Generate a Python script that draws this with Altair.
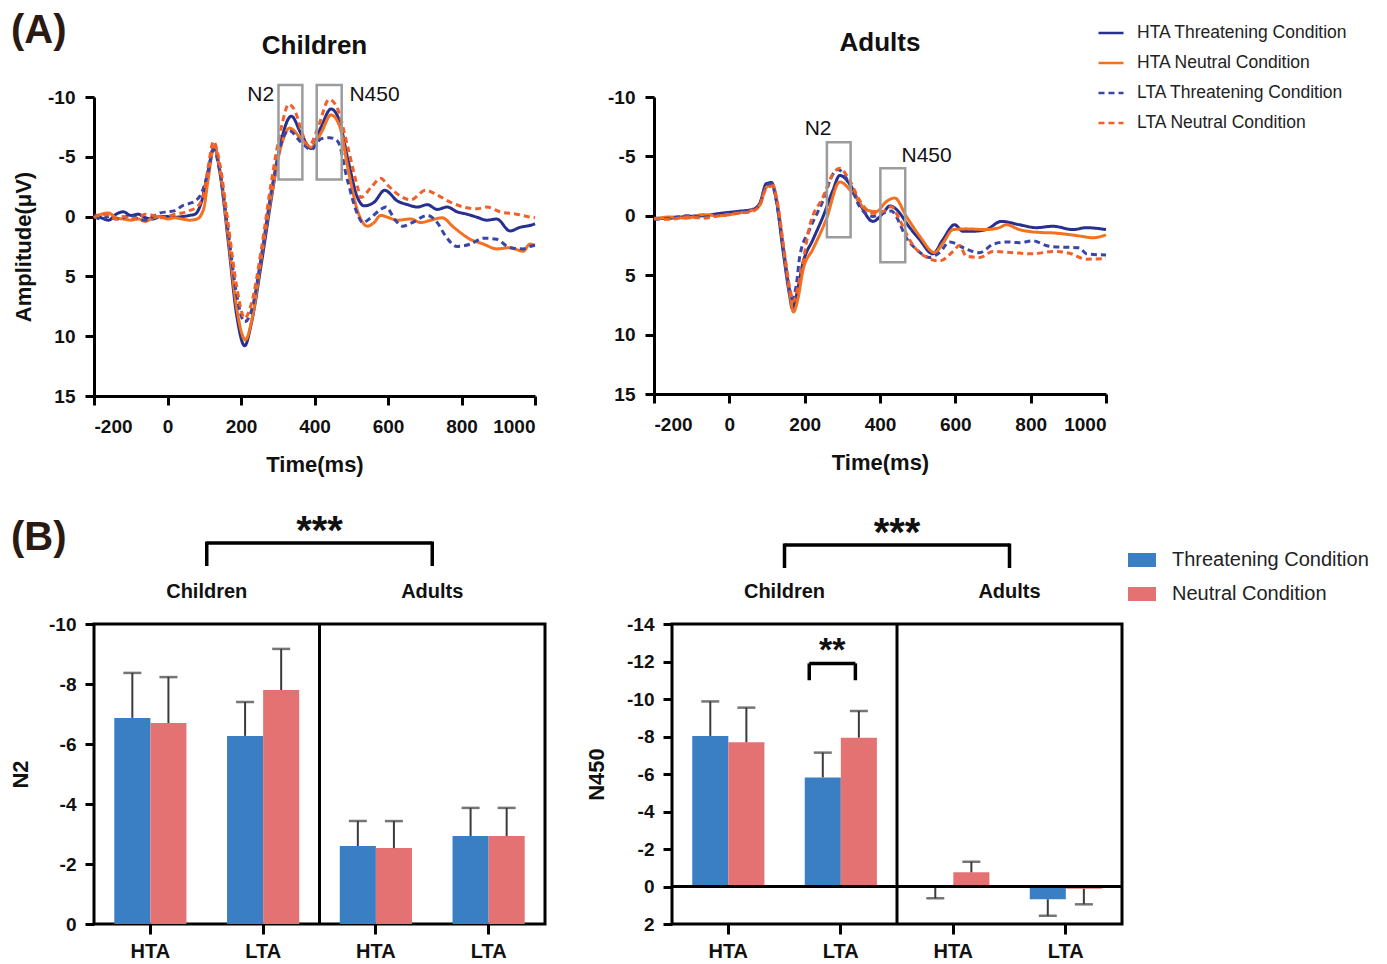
import altair as alt
import pandas as pd

# ---------------- ERP waveforms ----------------
SERIES = ["HTA Threatening Condition", "HTA Neutral Condition",
          "LTA Threatening Condition", "LTA Neutral Condition"]
SERIES_COLORS = ["#27308f", "#f4711f", "#3a45a6", "#f2602a"]
SERIES_DASH = [[1, 0], [1, 0], [6, 4], [6, 4]]

# Children
CH_HTA_THR_T = [-200, -180, -160, -140, -120, -100, -80, -60, -40, -20, 0, 20, 40, 60, 75, 93, 111, 127, 143, 165,
                188, 210, 229, 256, 283, 310, 337, 364, 391, 418, 445, 468, 490, 517, 535, 562, 591, 626, 653, 680,
                707, 734, 761, 788, 815, 842, 869, 896, 932, 959, 991, 1000]
CH_HTA_THR_V = [-0.2, 0.1, 0.3, -0.2, -0.4, -0.1, -0.2, 0.1, 0.2, 0.0, 0.0, 0.05, 0.0, -0.1, -0.2, -1.3, -3.9, -5.9, -3.6, 2.0,
                8.2, 10.8, 8.8, 3.8, -1.6, -6.4, -8.4, -6.9, -5.7, -7.5, -9.0, -8.0, -4.9, -1.6, -0.9, -1.2, -2.2, -1.3, -1.0, -0.8,
                -1.0, -0.6, -0.8, -0.4, -0.2, 0.05, 0.3, 0.2, 1.2, 0.9, 0.7, 0.6]
CH_HTA_NEU_T = [-200, -180, -160, -140, -120, -100, -80, -60, -40, -20, 0, 20, 40, 60, 80, 98, 111, 127, 143, 165,
                188, 212, 231, 256, 283, 310, 332, 364, 391, 418, 445, 468, 490, 517, 544, 562, 580, 603, 625, 662,
                689, 716, 747, 779, 824, 860, 896, 932, 968, 986, 1000]
CH_HTA_NEU_V = [0.1, -0.2, -0.3, 0.1, 0.2, 0.3, 0.2, 0.4, 0.1, 0.0, 0.2, 0.1, 0.2, 0.3, 0.2, -0.6, -3.2, -5.9, -3.8, 1.6,
                7.6, 10.3, 8.4, 3.3, -1.8, -6.0, -7.4, -6.5, -5.8, -7.0, -8.5, -7.6, -4.2, -0.5, 0.8, 0.5, -0.1, 0.1, 0.3, 0.2,
                0.5, 0.3, 0.1, 0.9, 1.9, 2.3, 2.7, 2.6, 2.9, 2.3, 2.4]
CH_LTA_THR_T = [-200, -180, -160, -140, -120, -100, -80, -60, -40, -20, 0, 20, 40, 60, 75, 93, 111, 125, 143, 165,
                188, 210, 229, 256, 283, 310, 330, 364, 391, 418, 441, 463, 490, 517, 531, 553, 580, 594, 620, 639,
                666, 707, 734, 756, 788, 824, 860, 896, 932, 968, 986, 1000]
CH_LTA_THR_V = [0.0, 0.2, 0.0, 0.2, 0.1, -0.1, 0.2, 0.3, 0.0, -0.3, -0.4, -0.5, -0.9, -1.1, -1.3, -2.0, -3.8, -5.6, -3.7, 1.2,
                6.5, 8.8, 7.8, 3.2, -2.2, -6.2, -7.2, -6.2, -5.6, -6.5, -6.6, -6.3, -3.0, -0.2, 0.5, 0.1, -0.6, -0.8, 0.3, 0.8,
                0.5, -0.1, 0.5, 1.6, 2.5, 2.3, 1.8, 1.9, 2.6, 2.7, 2.5, 2.4]
CH_LTA_NEU_T = [-200, -180, -160, -140, -120, -100, -80, -60, -40, -20, 0, 20, 40, 60, 80, 98, 111, 125, 143, 165,
                188, 210, 229, 256, 283, 310, 330, 350, 364, 385, 410, 440, 463, 490, 517, 526, 553, 580, 600, 625,
                662, 702, 734, 770, 806, 842, 869, 905, 950, 991, 1000]
CH_LTA_NEU_V = [0.1, -0.2, -0.1, 0.2, 0.0, 0.2, 0.1, -0.2, -0.1, 0.1, 0.0, -0.2, -0.3, -0.5, -0.8, -1.8, -4.2, -6.3, -4.3, 0.6,
                5.8, 8.5, 7.2, 2.6, -3.0, -7.5, -9.4, -8.6, -7.2, -5.9, -7.5, -9.8, -9.0, -5.9, -2.5, -1.6, -2.4, -3.2, -2.6, -1.9,
                -1.4, -2.2, -1.8, -1.2, -0.8, -0.65, -0.8, -0.4, -0.2, 0.06, 0.1]

# Adults
AD_HTA_THR_T = [-200, -158, -114, -70, -26, 19, 63, 81, 98, 112, 125, 142, 160, 167, 178, 196, 222, 249, 275, 293,
                319, 346, 381, 408, 426, 456, 470, 505, 540, 567, 598, 620, 647, 682, 722, 770, 815, 859, 912, 948, 1000]
AD_HTA_THR_V = [0.2, 0.2, 0.05, 0.0, -0.2, -0.36, -0.55, -1.05, -2.7, -2.8, -1.3, 2.8, 6.7, 7.8, 6.7, 3.9, 2.0, 0.05, -2.15, -3.4,
                -2.7, -1.05, 0.47, -0.22, -0.83, -0.08, 0.6, 2.0, 3.2, 2.0, 0.75, 1.3, 1.3, 1.16, 0.47, 0.75, 1.0, 0.88, 1.16, 1.0, 1.16]
AD_HTA_NEU_T = [-200, -158, -114, -70, -26, 19, 63, 81, 98, 115, 128, 145, 162, 170, 182, 196, 222, 257, 293, 328,
                364, 390, 417, 439, 470, 505, 545, 567, 594, 629, 682, 717, 735, 770, 824, 859, 930, 965, 1000]
AD_HTA_NEU_V = [0.3, 0.1, 0.2, -0.1, 0.0, -0.2, -0.5, -0.9, -2.4, -2.6, -1.0, 3.0, 6.8, 8.1, 7.0, 4.5, 2.8, 0.33, -2.85, -1.9,
                -0.5, -0.36, -1.2, -1.5, 0.05, 1.7, 3.1, 2.3, 1.16, 1.1, 1.16, 1.0, 0.75, 1.16, 1.4, 1.44, 1.7, 1.85, 1.6]
AD_LTA_THR_T = [-200, -158, -114, -70, -26, 19, 63, 81, 98, 112, 125, 142, 160, 167, 178, 187, 213, 249, 275, 288,
                319, 346, 381, 408, 430, 452, 465, 496, 532, 558, 585, 629, 664, 700, 735, 771, 806, 841, 859, 930, 948, 1000]
AD_LTA_THR_V = [0.3, 0.2, 0.0, 0.1, -0.1, -0.3, -0.5, -1.0, -2.6, -2.7, -1.2, 2.5, 6.2, 7.0, 5.8, 3.4, 1.16, -1.3, -3.5, -3.9,
                -2.7, -0.77, 0.05, -0.22, -0.4, 0.6, 1.57, 2.8, 3.5, 3.1, 2.2, 2.8, 3.1, 2.4, 2.2, 2.26, 2.1, 2.5, 2.6, 2.7, 3.2, 3.3]
AD_LTA_NEU_T = [-200, -158, -114, -70, -26, 19, 63, 81, 98, 115, 128, 145, 162, 170, 182, 192, 213, 249, 275, 293,
                319, 346, 381, 408, 430, 452, 478, 505, 558, 594, 611, 629, 664, 700, 753, 806, 859, 903, 948, 1000]
AD_LTA_NEU_V = [0.2, 0.3, 0.1, 0.2, 0.0, -0.2, -0.4, -0.9, -2.3, -2.5, -1.0, 2.8, 6.3, 7.2, 6.0, 4.5, 0.9, -1.6, -3.5, -4.0,
                -3.0, -1.3, -0.22, -0.36, -0.77, 0.33, 2.0, 3.1, 3.8, 3.0, 2.5, 3.4, 3.5, 3.0, 3.1, 3.2, 3.0, 3.15, 3.65, 3.6]

# ERP component windows (ms) and amplitude extents (uV) of the grey boxes
BOX_NAME = ["N2", "N450"]
CH_BOX_T0 = [302, 406]
CH_BOX_T1 = [367, 474]
CH_BOX_V0 = [-11.0, -11.0]
CH_BOX_V1 = [-3.1, -3.1]
CH_LABEL_T = [290, 495]
CH_LABEL_V = [-10.2, -10.2]
CH_LABEL_ALIGN = ["right", "left"]

AD_BOX_T0 = [259, 401]
AD_BOX_T1 = [322, 467]
AD_BOX_V0 = [-6.2, -4.0]
AD_BOX_V1 = [1.8, 3.9]
AD_LABEL_T = [200, 457]
AD_LABEL_V = [-7.3, -5.0]
AD_LABEL_ALIGN = ["left", "left"]

# ---------------- Bar data ----------------
GROUPS = ["Children HTA", "Children LTA", "Adults HTA", "Adults LTA"]
CONDS = ["Threatening Condition", "Neutral Condition"]
BAR_COLORS = ["#3a7fc4", "#e47272"]

N2_THR = [-6.87, -6.27, -2.6, -2.93]
N2_NEU = [-6.7, -7.8, -2.53, -2.93]
N2_THR_ERR = [-8.37, -7.4, -3.43, -3.87]
N2_NEU_ERR = [-8.23, -9.17, -3.43, -3.87]

N450_THR = [-8.03, -5.82, 0.05, 0.68]
N450_NEU = [-7.69, -7.94, -0.76, 0.12]
N450_THR_ERR = [-9.87, -7.14, 0.63, 1.56]
N450_NEU_ERR = [-9.54, -9.36, -1.32, 0.95]

AGE_LABELS = ["Children", "Adults"]
AGE_POS = [1, 3]          # centre of each age block on a 0-4 group axis
DIVIDER_POS = [2]
SIG_MAIN = "***"
SIG_INNER = "**"
INNER_BRACKET = [1.22, 1.63]   # LTA children pair in N450 panel
INNER_BRACKET_V = [-11.9, -11.0]
INNER_TEXT_V = -12.05

FONT = "Liberation Sans"
NEG = "datum.value < 0 ? '-' + abs(datum.value) : '' + datum.value"


def erp_df(pairs):
    rows = []
    for name, (ts, vs) in zip(SERIES, pairs):
        for t, v in zip(ts, vs):
            rows.append({"Series": name, "Time": t, "Amp": v})
    return pd.DataFrame(rows)


def text_at(s, x, y, size, weight="bold", align="center", baseline="middle", color="#111"):
    return alt.Chart(pd.DataFrame({"t": [s]})).mark_text(
        font=FONT, fontSize=size, fontWeight=weight, align=align, baseline=baseline, color=color).encode(
        x=alt.value(x), y=alt.value(y), text="t:N")


def erp_chart(df, box_df, lab_df, title, title_y, ytitle, W, H, show_legend, extra):
    xs = alt.Scale(domain=[-200, 1000], nice=False, zero=False)
    ys = alt.Scale(domain=[-10, 15], reverse=True, nice=False, zero=False)
    xaxis = alt.Axis(values=[-200, 0, 200, 400, 600, 800, 1000], labelExpr=NEG, labelPadding=12,
                     titlePadding=18, labelOverlap=False, title="Time(ms)")
    yaxis = alt.Axis(values=[-10, -5, 0, 5, 10, 15], labelExpr=NEG, labelPadding=10, titlePadding=12,
                     labelOverlap=False, title=ytitle)
    if show_legend:
        leg = alt.Legend(title=None, orient="none", legendX=443, legendY=-78, symbolType="stroke",
                         symbolSize=625, symbolStrokeWidth=2.5, labelFontSize=17.5, labelFont=FONT,
                         labelColor="#222", rowPadding=7, labelOffset=12, labelLimit=0)
    else:
        leg = None
    lines = alt.Chart(df).mark_line(strokeWidth=3, interpolate="monotone").encode(
        x=alt.X("Time:Q", scale=xs, axis=xaxis),
        y=alt.Y("Amp:Q", scale=ys, axis=yaxis),
        color=alt.Color("Series:N", sort=SERIES,
                        scale=alt.Scale(domain=SERIES, range=SERIES_COLORS), legend=leg),
        strokeDash=alt.StrokeDash("Series:N", sort=SERIES,
                                  scale=alt.Scale(domain=SERIES, range=SERIES_DASH), legend=leg),
    )
    boxes = alt.Chart(box_df).mark_rect(fillOpacity=0, stroke="#9c9c9c", strokeWidth=2.5).encode(
        x=alt.X("t0:Q", scale=xs, axis=xaxis), x2="t1:Q",
        y=alt.Y("v0:Q", scale=ys, axis=yaxis), y2="v1:Q",
    )
    layers = [lines, boxes]
    for al in ["left", "right"]:
        sub = lab_df[lab_df["align"] == al]
        if len(sub) == 0:
            continue
        layers.append(alt.Chart(sub).mark_text(font=FONT, fontSize=21, baseline="middle", align=al,
                                               color="#111").encode(
            x=alt.X("t:Q", scale=xs, axis=xaxis),
            y=alt.Y("v:Q", scale=ys, axis=yaxis),
            text="name:N",
        ))
    layers.append(text_at(title, W / 2, title_y, 26))
    layers += extra
    return alt.layer(*layers).properties(width=W, height=H)


def bar_df(thr, neu, thr_e, neu_e):
    rows = []
    for i, g in enumerate(GROUPS):
        rows.append({"Group": g, "Condition": CONDS[0], "Value": thr[i], "Err": thr_e[i]})
        rows.append({"Group": g, "Condition": CONDS[1], "Value": neu[i], "Err": neu_e[i]})
    return pd.DataFrame(rows)


def bar_chart(df, domain, ticks, ytitle, title_pad, W, H, legend, sig_y, extra, zero_line):
    ys = alt.Scale(domain=domain, reverse=True, nice=False, zero=True)
    xaxis = alt.Axis(title=None, labelExpr="split(datum.label, ' ')[1]", labelAngle=0, domain=False,
                     tickSize=10, labelPadding=7, labelFontSize=20)
    x = alt.X("Group:N", sort=GROUPS, scale=alt.Scale(paddingInner=0.36, paddingOuter=0.18), axis=xaxis)
    xo = alt.XOffset("Condition:N", sort=CONDS, scale=alt.Scale(paddingInner=0, paddingOuter=0))
    yaxis = alt.Axis(values=ticks, labelExpr=NEG, domain=False, labelPadding=9, titlePadding=title_pad,
                     labelOverlap=False, title=ytitle)
    base = alt.Chart(df)
    bars = base.mark_bar().encode(
        x=x, xOffset=xo,
        y=alt.Y("Value:Q", scale=ys, axis=yaxis),
        color=alt.Color("Condition:N", sort=CONDS, scale=alt.Scale(domain=CONDS, range=BAR_COLORS),
                        legend=legend),
    )
    rules = base.mark_rule(color="#3b3b3b", strokeWidth=2).encode(
        x=x, xOffset=xo, y=alt.Y("Value:Q", scale=ys, axis=yaxis), y2="Err:Q")
    caps = base.mark_tick(color="#3b3b3b", thickness=2.5, size=18).encode(
        x=x, xOffset=xo, y=alt.Y("Err:Q", scale=ys, axis=yaxis))
    inner = alt.layer(bars, rules, caps)

    ps = alt.Scale(domain=[0, 4], nice=False, zero=False)
    lab = alt.Chart(pd.DataFrame({"p": AGE_POS, "t": AGE_LABELS})).mark_text(
        font=FONT, fontSize=20, fontWeight="bold", baseline="middle", color="#111").encode(
        x=alt.X("p:Q", scale=ps, axis=None), y=alt.value(-32), text="t:N")
    div = alt.Chart(pd.DataFrame({"p": DIVIDER_POS})).mark_rule(color="black", strokeWidth=3).encode(
        x=alt.X("p:Q", scale=ps, axis=None), y=alt.value(0), y2=alt.value(H))
    top = alt.Chart(pd.DataFrame({"a": [AGE_POS[0]], "b": [AGE_POS[1]]})).mark_rule(
        color="black", strokeWidth=3.5).encode(
        x=alt.X("a:Q", scale=ps, axis=None), x2="b:Q", y=alt.value(sig_y[0]))
    legs = alt.Chart(pd.DataFrame({"p": AGE_POS})).mark_rule(color="black", strokeWidth=3.5).encode(
        x=alt.X("p:Q", scale=ps, axis=None), y=alt.value(sig_y[0] - 1.5), y2=alt.value(sig_y[1]))
    star = alt.Chart(pd.DataFrame({"p": [sum(AGE_POS) / 2], "t": [SIG_MAIN]})).mark_text(
        font=FONT, fontSize=40, fontWeight="bold", baseline="alphabetic", color="#111").encode(
        x=alt.X("p:Q", scale=ps, axis=None), y=alt.value(sig_y[2]), text="t:N")
    ann = [lab, div, top, legs, star]
    if zero_line:
        z = alt.Chart(pd.DataFrame({"a": [0], "b": [4], "z": [0]})).mark_rule(
            color="black", strokeWidth=3).encode(
            x=alt.X("a:Q", scale=ps, axis=None), x2="b:Q", y=alt.Y("z:Q", scale=ys, axis=yaxis))
        ann.append(z)
    for e in extra:
        ann.append(e(ps, ys, yaxis))
    annl = alt.layer(*ann)
    return alt.layer(inner, annl).resolve_scale(x="independent").properties(
        width=W, height=H, view=alt.ViewBackground(stroke="black", strokeWidth=3))


def inner_bracket(ps, ys, yaxis):
    hb = alt.Chart(pd.DataFrame({"a": [INNER_BRACKET[0]], "b": [INNER_BRACKET[1]],
                                 "y": [INNER_BRACKET_V[0]]})).mark_rule(color="black", strokeWidth=3.5).encode(
        x=alt.X("a:Q", scale=ps, axis=None), x2="b:Q", y=alt.Y("y:Q", scale=ys, axis=yaxis))
    lg = alt.Chart(pd.DataFrame({"p": INNER_BRACKET, "y0": [INNER_BRACKET_V[0]] * 2,
                                 "y1": [INNER_BRACKET_V[1]] * 2})).mark_rule(color="black", strokeWidth=3.5).encode(
        x=alt.X("p:Q", scale=ps, axis=None), y=alt.Y("y0:Q", scale=ys, axis=yaxis), y2="y1:Q")
    tx = alt.Chart(pd.DataFrame({"p": [sum(INNER_BRACKET) / 2], "y": [INNER_TEXT_V], "t": [SIG_INNER]})).mark_text(
        font=FONT, fontSize=34, fontWeight="bold", baseline="alphabetic", color="#111").encode(
        x=alt.X("p:Q", scale=ps, axis=None), y=alt.Y("y:Q", scale=ys, axis=yaxis), text="t:N")
    return alt.layer(hb, lg, tx)


ch_df = erp_df([(CH_HTA_THR_T, CH_HTA_THR_V), (CH_HTA_NEU_T, CH_HTA_NEU_V),
                (CH_LTA_THR_T, CH_LTA_THR_V), (CH_LTA_NEU_T, CH_LTA_NEU_V)])
ad_df = erp_df([(AD_HTA_THR_T, AD_HTA_THR_V), (AD_HTA_NEU_T, AD_HTA_NEU_V),
                (AD_LTA_THR_T, AD_LTA_THR_V), (AD_LTA_NEU_T, AD_LTA_NEU_V)])

ch_box = pd.DataFrame({"t0": CH_BOX_T0, "t1": CH_BOX_T1, "v0": CH_BOX_V0, "v1": CH_BOX_V1})
ad_box = pd.DataFrame({"t0": AD_BOX_T0, "t1": AD_BOX_T1, "v0": AD_BOX_V0, "v1": AD_BOX_V1})
ch_lab = pd.DataFrame({"t": CH_LABEL_T, "v": CH_LABEL_V, "name": BOX_NAME, "align": CH_LABEL_ALIGN})
ad_lab = pd.DataFrame({"t": AD_LABEL_T, "v": AD_LABEL_V, "name": BOX_NAME, "align": AD_LABEL_ALIGN})

tl = erp_chart(ch_df, ch_box, ch_lab, "Children", -51, "Amplitude(μV)", 441, 299, False,
               [text_at("(A)", -83, -66, 40, "bold", "left", "middle", "#2a1a12")])
tr = erp_chart(ad_df, ad_box, ad_lab, "Adults", -54, None, 452, 297, True, [])

bar_leg = alt.Legend(title=None, orient="none", legendX=456, legendY=-78,
                     symbolType="M-1,-0.5H1V0.5H-1Z", symbolSize=784, symbolStrokeWidth=0,
                     labelFontSize=20, labelFont=FONT, labelColor="#222", rowPadding=10, labelOffset=16,
                     labelLimit=0)

bl = bar_chart(bar_df(N2_THR, N2_NEU, N2_THR_ERR, N2_NEU_ERR), [-10, 0], [-10, -8, -6, -4, -2, 0],
               "N2", 16, 451, 300, None, [-81, -58, -80],
               [lambda ps, ys, ya: text_at("(B)", -83, -86, 40, "bold", "left", "middle", "#2a1a12")], False)
br = bar_chart(bar_df(N450_THR, N450_NEU, N450_THR_ERR, N450_NEU_ERR), [-14, 2],
               [-14, -12, -10, -8, -6, -4, -2, 0, 2], "N450", 18, 450, 300, bar_leg, [-79, -56, -78],
               [inner_bracket], True)

top_row = alt.hconcat(tl, tr, spacing=119, bounds="flush").resolve_scale(
    color="independent", strokeDash="independent")
bottom_row = alt.hconcat(bl, br, spacing=127, bounds="flush").resolve_scale(color="independent")

chart = alt.vconcat(top_row, bottom_row, spacing=527, bounds="flush").properties(
    padding={"left": 0, "top": 3, "right": 5, "bottom": 5}
).configure_view(stroke=None).configure_axis(
    labelFont=FONT, labelFontSize=19, labelFontWeight="bold", labelColor="#111",
    titleFont=FONT, titleFontSize=22, titleFontWeight="bold", titleColor="#111",
    domainColor="black", domainWidth=3, tickColor="black", tickWidth=3, tickSize=9, grid=False,
    labelOverlap=False,
)

chart.save("out.html", embed_options={"renderer": "svg", "actions": False})
